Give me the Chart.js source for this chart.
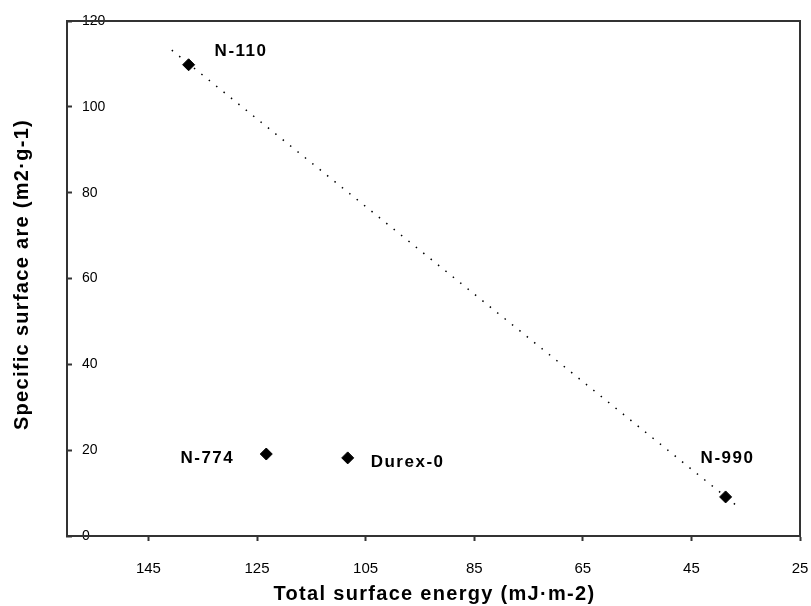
<!DOCTYPE html>
<html>
<head>
<meta charset="utf-8">
<script src="https://cdn.jsdelivr.net/npm/chart.js@4.4.1/dist/chart.umd.min.js"></script>
<style>
  html, body { margin: 0; padding: 0; background: #fff; }
  #wrap { width: 811px; height: 606px; }
</style>
</head>
<body>
<div id="wrap"><canvas id="grafico"></canvas></div>
<script>
// dados
const nomes          = ['N-110', 'N-774', 'Durex-0', 'N-990'];
const energiaTotal   = [137.6, 123.3, 108.3, 38.7];
const areaEspecifica = [109.8, 19.1, 18.2, 9.1];
const tendenciaX     = [140.7, 36.5];
const tendenciaY     = [113.2, 6.9];
const ticksX         = [145, 125, 105, 85, 65, 45, 25];
const ticksY         = [0, 20, 40, 60, 80, 100, 120];
const tituloX        = 'Total surface energy (mJ·m-2)';
const tituloY        = 'Specific surface are (m2·g-1)';

// posição dos rótulos em relação ao ponto (dx, dy, alinhamento)
const posRotulos = [
  [26, -13, 'left'],
  [-32, 4, 'right'],
  [23, 4, 'left'],
  [-25, -39, 'left']
];

const COR_EIXO = '#333';
const FONTE = "'Liberation Sans', Arial, sans-serif";

const pontos = energiaTotal.map((x, i) => ({ x, y: areaEspecifica[i] }));
const linha  = tendenciaX.map((x, i) => ({ x, y: tendenciaY[i] }));

// rótulos dos pontos, títulos dos eixos e moldura
const rotulosPlugin = {
  id: 'rotulos',
  afterDatasetsDraw(chart) {
    const ctx  = chart.ctx;
    const meta = chart.getDatasetMeta(1);
    ctx.save();
    ctx.font = "bold 17px " + FONTE;
    ctx.letterSpacing = '1.5px';
    ctx.fillStyle = '#000';
    ctx.textBaseline = 'middle';
    meta.data.forEach((pt, i) => {
      const [dx, dy, al] = posRotulos[i];
      ctx.textAlign = al;
      ctx.fillText(nomes[i], pt.x + dx, pt.y + dy);
    });
    ctx.restore();
  },
  afterDraw(chart) {
    const { ctx, chartArea: a } = chart;
    ctx.save();
    ctx.strokeStyle = COR_EIXO;
    ctx.lineWidth = 2;
    ctx.strokeRect(a.left, a.top, a.right - a.left, a.bottom - a.top);

    ctx.font = "bold 20px " + FONTE;
    ctx.letterSpacing = '1.3px';
    ctx.fillStyle = '#000';
    ctx.textAlign = 'center';
    ctx.textBaseline = 'middle';
    ctx.fillText(tituloX, (a.left + a.right) / 2 + 1, 594);
    ctx.translate(22, (a.top + a.bottom) / 2 - 4);
    ctx.rotate(-Math.PI / 2);
    ctx.fillText(tituloY, 0, 0);
    ctx.restore();
  }
};

new Chart(document.getElementById('grafico'), {
  type: 'scatter',
  data: {
    datasets: [
      {
        label: 'tendência',
        data: linha,
        showLine: true,
        borderColor: '#000',
        borderWidth: 1.5,
        borderDash: [1.5, 8],
        pointRadius: 0,
        fill: false
      },
      {
        label: 'amostras',
        data: pontos,
        pointStyle: 'rectRot',
        pointRadius: 6,
        pointHoverRadius: 6,
        backgroundColor: '#000',
        borderColor: '#000'
      }
    ]
  },
  options: {
    responsive: true,
    maintainAspectRatio: false,
    animation: false,
    layout: { padding: { top: 21, right: 11, left: 0, bottom: 0 } },
    plugins: {
      legend: { display: false },
      tooltip: { enabled: false }
    },
    scales: {
      x: {
        type: 'linear',
        min: 25,
        max: 160,
        reverse: true,
        afterBuildTicks: s => { s.ticks = ticksX.map(v => ({ value: v })); },
        afterFit: s => { s.height = 70; s.paddingLeft = 0; s.paddingRight = 0; },
        grid: { drawOnChartArea: false, tickLength: 5, color: COR_EIXO, tickWidth: 2 },
        border: { color: COR_EIXO, width: 2 },
        ticks: { color: '#000', padding: 19, maxRotation: 0, font: { family: FONTE, size: 15 } }
      },
      y: {
        min: 0,
        max: 120,
        afterBuildTicks: s => { s.ticks = ticksY.map(v => ({ value: v })); },
        afterFit: s => { s.width = 67; s.paddingTop = 0; s.paddingBottom = 0; },
        grid: { drawOnChartArea: false, tickLength: -5, color: COR_EIXO, tickWidth: 2 },
        border: { color: COR_EIXO, width: 2 },
        ticks: { color: '#000', mirror: true, padding: 15, font: { family: FONTE, size: 14 } }
      }
    }
  },
  plugins: [rotulosPlugin]
});
</script>
</body>
</html>
